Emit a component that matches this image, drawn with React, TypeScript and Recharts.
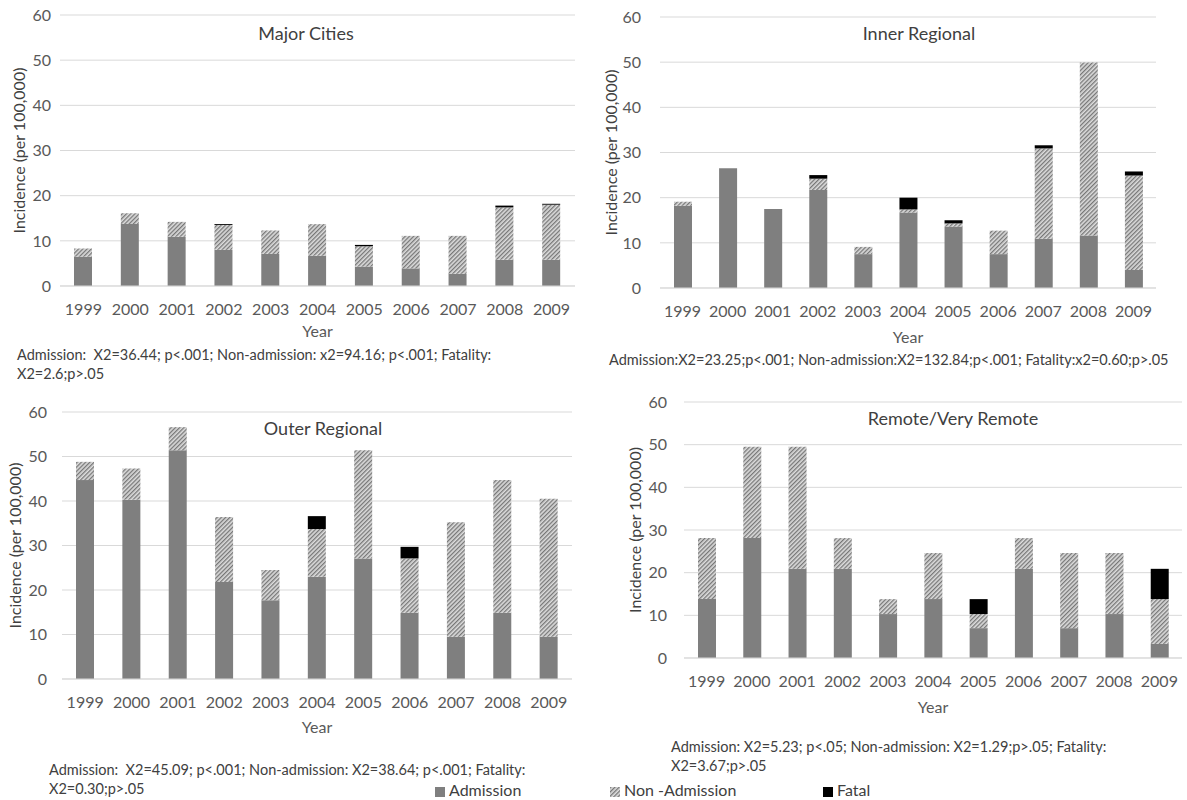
import { BarChart, Bar, XAxis, YAxis, CartesianGrid } from 'recharts'

const YEARS = ['1999', '2000', '2001', '2002', '2003', '2004', '2005', '2006', '2007', '2008', '2009']
const Y_TICKS = [0, 10, 20, 30, 40, 50, 60]

// Major Cities
const MAJOR_ADMISSION = [6.5, 13.7, 10.9, 8.0, 7.1, 6.7, 4.3, 3.9, 2.7, 5.8, 5.8]
const MAJOR_NON_ADMISSION = [1.8, 2.4, 3.3, 5.5, 5.2, 7.0, 4.5, 7.2, 8.4, 11.6, 12.2]
const MAJOR_FATAL = [0, 0, 0, 0.2, 0, 0, 0.3, 0, 0, 0.4, 0.2]

// Inner Regional
const INNER_ADMISSION = [18.2, 26.5, 17.5, 21.7, 7.5, 16.7, 13.6, 7.5, 10.9, 11.6, 4.0]
const INNER_NON_ADMISSION = [0.9, 0, 0, 2.5, 1.6, 0.7, 0.7, 5.2, 20.0, 38.3, 20.9]
const INNER_FATAL = [0, 0, 0, 0.8, 0, 2.6, 0.7, 0, 0.7, 0, 0.9]

// Outer Regional
const OUTER_ADMISSION = [44.7, 40.3, 51.4, 21.8, 17.7, 23.0, 27.1, 14.9, 9.5, 14.9, 9.5]
const OUTER_NON_ADMISSION = [4.1, 7.0, 5.2, 14.6, 6.8, 10.7, 24.3, 12.2, 25.7, 29.8, 31.0]
const OUTER_FATAL = [0, 0, 0, 0, 0, 2.9, 0, 2.6, 0, 0, 0]

// Remote/Very Remote
const REMOTE_ADMISSION = [13.8, 28.1, 20.9, 20.9, 10.3, 13.8, 7.0, 20.9, 7.0, 10.3, 3.3]
const REMOTE_NON_ADMISSION = [14.3, 21.4, 28.6, 7.2, 3.5, 10.8, 3.3, 7.2, 17.6, 14.3, 10.5]
const REMOTE_FATAL = [0, 0, 0, 0, 0, 0, 3.5, 0, 0, 0, 7.1]

const FONT = 'Lato, sans-serif'
const ADMISSION_COLOR = '#7f7f7f'
const TEXT_COLOR = '#404040'
const TICK_COLOR = '#595959'

function buildRows(admission: number[], nonAdmission: number[], fatal: number[]) {
  return YEARS.map((year, i) => ({
    year,
    admission: admission[i],
    nonAdmission: nonAdmission[i],
    fatal: fatal[i],
  }))
}

interface PanelProps {
  title: string
  rows: ReturnType<typeof buildRows>
  left: number
  top: number
  width: number
  height: number
  marginTop: number
  marginRight: number
  yAxisWidth: number
  xAxisHeight: number
  yTickGap: number
  xTickGap: number
  yLabelOffset: number
  yearOffset: number
  titleX: number
  titleY: number
}

function Panel(p: PanelProps) {
  return (
    <>
      <div style={{ position: 'absolute', left: p.left, top: p.top }}>
        <BarChart
          width={p.width}
          height={p.height}
          data={p.rows}
          margin={{ top: p.marginTop, right: p.marginRight, left: 0, bottom: 0 }}
          barSize={18}
        >
          <CartesianGrid vertical={false} stroke="#d9d9d9" />
          <XAxis
            dataKey="year"
            height={p.xAxisHeight}
            tickLine={false}
            tickSize={0}
            tickMargin={p.xTickGap}
            axisLine={{ stroke: '#d9d9d9' }}
            interval={0}
            tick={{ fontSize: 16, fill: TICK_COLOR, fontFamily: FONT }}
            label={{
              value: 'Year',
              position: 'insideBottom',
              offset: p.yearOffset,
              style: { fontSize: 16, fill: TICK_COLOR, fontFamily: FONT },
            }}
          />
          <YAxis
            width={p.yAxisWidth}
            domain={[0, 60]}
            ticks={Y_TICKS}
            tickLine={false}
            tickSize={0}
            tickMargin={p.yTickGap}
            axisLine={false}
            tick={{ fontSize: 16, fill: TICK_COLOR, fontFamily: FONT }}
            label={{
              value: 'Incidence (per 100,000)',
              angle: -90,
              position: 'insideLeft',
              offset: p.yLabelOffset,
              style: { fontSize: 16, fill: TEXT_COLOR, fontFamily: FONT, textAnchor: 'middle' },
            }}
          />
          <Bar dataKey="admission" stackId="a" fill={ADMISSION_COLOR} isAnimationActive={false} />
          <Bar dataKey="nonAdmission" stackId="a" fill="url(#hatch)" isAnimationActive={false} />
          <Bar dataKey="fatal" stackId="a" fill="#000000" isAnimationActive={false} />
        </BarChart>
      </div>
      <div
        style={{
          position: 'absolute',
          left: p.titleX,
          top: p.titleY,
          transform: 'translate(-50%, -50%)',
          fontSize: 18,
          color: TEXT_COLOR,
          fontFamily: FONT,
          whiteSpace: 'nowrap',
        }}
      >
        {p.title}
      </div>
    </>
  )
}

function Caption({ x, y, lines }: { x: number; y: number; lines: string[] }) {
  return (
    <div
      style={{
        position: 'absolute',
        left: x,
        top: y,
        fontSize: 14.5,
        lineHeight: '19px',
        color: TEXT_COLOR,
        fontFamily: FONT,
        whiteSpace: 'pre',
      }}
    >
      {lines.map((l) => (
        <div key={l}>{l}</div>
      ))}
    </div>
  )
}

function Swatch({ fill }: { fill: string }) {
  return (
    <svg width={10} height={10} style={{ display: 'inline-block', marginRight: 4, verticalAlign: 'middle' }}>
      <rect width={10} height={10} fill={fill} />
    </svg>
  )
}

const legendItem = {
  position: 'absolute' as const,
  top: 781,
  fontSize: 16,
  color: TEXT_COLOR,
  whiteSpace: 'nowrap' as const,
  lineHeight: '18px',
}

export default function App() {
  return (
    <div
      style={{
        position: 'absolute',
        left: 0,
        top: 0,
        width: 1187,
        height: 800,
        background: '#ffffff',
        overflow: 'hidden',
        fontFamily: FONT,
      }}
    >
      <svg width={0} height={0} style={{ position: 'absolute' }}>
        <defs>
          <pattern id="hatch" width={3} height={3} patternUnits="userSpaceOnUse" patternTransform="rotate(45)">
            <rect width={3} height={3} fill="#dcdcdc" />
            <rect width={1.3} height={3} fill="#777777" />
          </pattern>
        </defs>
      </svg>

      <Panel
        title="Major Cities"
        rows={buildRows(MAJOR_ADMISSION, MAJOR_NON_ADMISSION, MAJOR_FATAL)}
        left={0}
        top={0}
        width={590}
        height={345}
        marginTop={15}
        marginRight={15}
        yAxisWidth={60}
        xAxisHeight={59}
        yTickGap={9}
        xTickGap={18}
        yLabelOffset={19}
        yearOffset={8}
        titleX={306}
        titleY={33}
      />
      <Panel
        title="Inner Regional"
        rows={buildRows(INNER_ADMISSION, INNER_NON_ADMISSION, INNER_FATAL)}
        left={590}
        top={0}
        width={597}
        height={352}
        marginTop={17}
        marginRight={31}
        yAxisWidth={70}
        xAxisHeight={64}
        yTickGap={19}
        xTickGap={18}
        yLabelOffset={21}
        yearOffset={9}
        titleX={919}
        titleY={33}
      />
      <Panel
        title="Outer Regional"
        rows={buildRows(OUTER_ADMISSION, OUTER_NON_ADMISSION, OUTER_FATAL)}
        left={0}
        top={390}
        width={590}
        height={350}
        marginTop={22}
        marginRight={18}
        yAxisWidth={62}
        xAxisHeight={61}
        yTickGap={15}
        xTickGap={18}
        yLabelOffset={15}
        yearOffset={7}
        titleX={323}
        titleY={428}
      />
      <Panel
        title="Remote/Very Remote"
        rows={buildRows(REMOTE_ADMISSION, REMOTE_NON_ADMISSION, REMOTE_FATAL)}
        left={590}
        top={385}
        width={597}
        height={335}
        marginTop={17}
        marginRight={5}
        yAxisWidth={94}
        xAxisHeight={62}
        yTickGap={17}
        xTickGap={18}
        yLabelOffset={45}
        yearOffset={7}
        titleX={953}
        titleY={418}
      />

      <Caption
        x={17}
        y={345}
        lines={['Admission:  X2=36.44; p<.001; Non-admission: x2=94.16; p<.001; Fatality:', 'X2=2.6;p>.05']}
      />
      <Caption
        x={609}
        y={350}
        lines={['Admission:X2=23.25;p<.001; Non-admission:X2=132.84;p<.001; Fatality:x2=0.60;p>.05']}
      />
      <Caption
        x={49}
        y={760}
        lines={['Admission:  X2=45.09; p<.001; Non-admission: X2=38.64; p<.001; Fatality:', 'X2=0.30;p>.05']}
      />
      <Caption
        x={671}
        y={737}
        lines={['Admission: X2=5.23; p<.05; Non-admission: X2=1.29;p>.05; Fatality:', 'X2=3.67;p>.05']}
      />

      {/* Legend */}
      <div style={{ ...legendItem, left: 435 }}>
        <Swatch fill={ADMISSION_COLOR} />
        Admission
      </div>
      <div style={{ ...legendItem, left: 610 }}>
        <Swatch fill="url(#hatch)" />
        Non -Admission
      </div>
      <div style={{ ...legendItem, left: 823 }}>
        <Swatch fill="#000000" />
        Fatal
      </div>
    </div>
  )
}
